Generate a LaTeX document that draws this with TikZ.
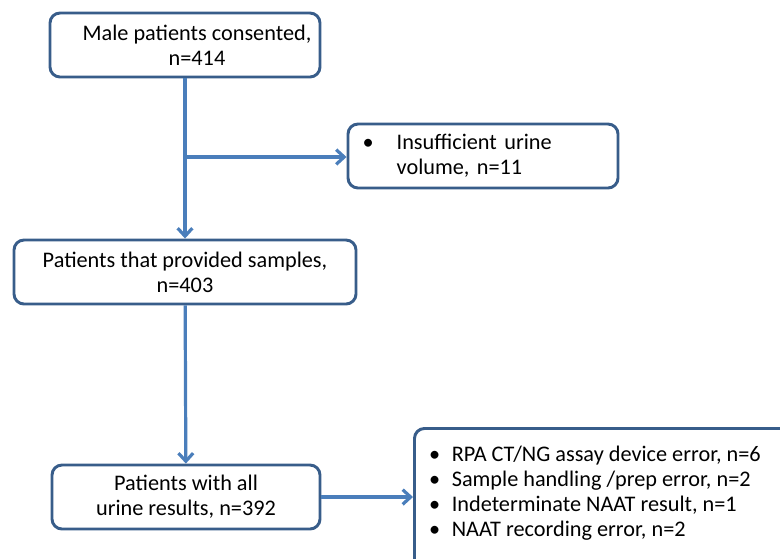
\documentclass[tikz,border=0pt]{standalone}
\usepackage{fontspec}
\setmainfont{Carlito}
\usetikzlibrary{arrows.meta}
\definecolor{boxline}{RGB}{56,93,138}
\definecolor{arrline}{RGB}{74,126,187}
\tikzset{
	flowbox/.style={rectangle, rounded corners=7.5pt, draw=boxline, line width=2.2pt, fill=white, align=center, inner sep=2pt, minimum height=48pt, font=\fontsize{16.7}{18.75}\selectfont},
	listbox/.style={flowbox, align=left, inner xsep=11pt},
	flowarrow/.style={draw=arrline, line width=2.4pt, -{Straight Barb[length=6pt,width=11pt]}}
}

\begin{document}
\begin{tikzpicture}[x=0.75pt,y=-0.75pt]
	\useasboundingbox (0,0) rectangle (780,558);
	% boxes
	\node[flowbox, minimum width=202.5pt] (consent) at (185,45) {\hspace*{18pt}Male patients consented,\\\hspace*{18pt}n=414};
	\node[listbox, text width=180.5pt] (insuff) at (483,156) {\makebox[25.5pt][l]{\textbullet}Insufficient urine\\\hspace*{25.5pt}volume, n=11};
	\node[flowbox, minimum width=256.5pt] (provided) at (185,272) {Patients that provided samples,\\n=403};
	\node[flowbox, minimum width=201pt] (results) at (186,497) {Patients with all\\urine results, n=392};
	\node[listbox, inner ysep=13pt, anchor=north west] (errors) at (413,427) {\parbox[c][90pt][t]{278pt}{%
		\makebox[17pt][l]{\textbullet}RPA CT/NG assay device error, n=6\\
		\makebox[17pt][l]{\textbullet}Sample handling /prep error, n=2\\
		\makebox[17pt][l]{\textbullet}Indeterminate NAAT result, n=1\\
		\makebox[17pt][l]{\textbullet}NAAT recording error, n=2}};
	% connectors
	\coordinate (branch) at (185,157);
	\draw[flowarrow] (consent) -- (provided);
	\draw[flowarrow] (branch) -- (branch -| insuff.west);
	\draw[flowarrow] (provided) -- (results);
	\draw[flowarrow] (results.east) -- (results.east -| errors.west);
\end{tikzpicture}
\end{document}
